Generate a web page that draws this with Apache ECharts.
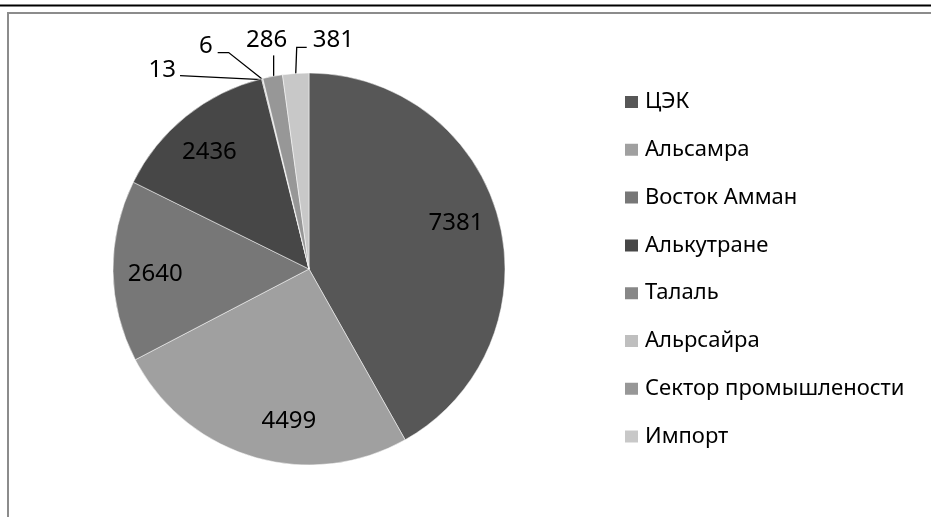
<!DOCTYPE html>
<html>
<head>
<meta charset="utf-8">
<script src="https://cdn.jsdelivr.net/npm/echarts@6/dist/echarts.min.js"></script>
<style>
html,body{margin:0;padding:0;background:#fff;}
#chart{width:931px;height:517px;}
</style>
</head>
<body>
<div id="chart"></div>
<script>
const categories = ['ЦЭК','Альсамра','Восток Амман','Алькутране','Талаль','Альрсайра','Сектор промышлености','Импорт'];
const values = [7381, 4499, 2640, 2436, 13, 6, 286, 381];
const colors = ['#575757','#a0a0a0','#777777','#474747','#878787','#bfbfbf','#979797','#c8c8c8'];

const FONT = '"Noto Sans", "DejaVu Sans", sans-serif';
const CX = 309, CY = 269, R = 196;
// inner label placement: angular tweak (deg)
const innerTweak = {0: -2.5, 1: -9, 2: -1.4, 3: -1.5};
// outer label leader layout relative to slice anchor
const outerLayout = {
  4: {pts: [[0,1],[-41,-1],[-82,-3]], lx: -86, ly: -9, align: 'right'},
  5: {pts: [[0,1],[-34,-26],[-45,-26]], lx: -50, ly: -32, align: 'right'},
  6: {pts: [[1,1],[1,-10],[1,-21]], lx: -6, ly: -36, align: 'center'},
  7: {pts: [[0,1],[1,-26],[11,-26]], lx: 17, ly: -33, align: 'left'}
};

const chart = echarts.init(document.getElementById('chart'), null, {renderer: 'canvas'});
const data = categories.map((n, i) => ({
  name: n,
  value: values[i],
  itemStyle: {color: colors[i]},
  label: {position: i <= 3 ? 'inside' : 'outside'},
  labelLine: {show: i > 3}
}));

chart.setOption({
  animation: false,
  backgroundColor: '#fff',
  graphic: [
    {type: 'line', shape: {x1: 0, y1: 5.5, x2: 931, y2: 5.5}, style: {stroke: '#000', lineWidth: 2}},
    {type: 'rect', shape: {x: 8, y: 13, width: 1000, height: 700}, style: {fill: null, stroke: '#8c8c8c', lineWidth: 2}}
  ],
  legend: {
    orient: 'vertical',
    left: 623,
    top: 90,
    padding: 0,
    itemWidth: 15,
    itemHeight: 14,
    itemGap: 23.8,
    icon: 'rect',
    selectedMode: false,
    data: categories,
    textStyle: {fontFamily: FONT, fontSize: 22, color: '#000', lineHeight: 24, padding: [0, 0, 0, 1]}
  },
  series: [{
    type: 'pie',
    center: [CX, CY],
    radius: R,
    startAngle: 90,
    clockwise: true,
    avoidLabelOverlap: false,
    itemStyle: {borderColor: '#ffffff', borderWidth: 0.5},
    label: {show: true, formatter: '{c}', fontFamily: FONT, fontSize: 24, color: '#000'},
    labelLine: {lineStyle: {color: '#000', width: 1.3}, length: 10, length2: 10},
    labelLayout: function (p) {
      const i = p.dataIndex;
      if (i <= 3) {
        const lr = p.labelRect;
        const lx = lr.x + lr.width / 2, ly = lr.y + lr.height / 2;
        let ang = Math.atan2(lx - CX, -(ly - CY));
        ang += (innerTweak[i] || 0) * Math.PI / 180;
        const r = 0.785 * R;
        return {x: CX + r * Math.sin(ang), y: CY - r * Math.cos(ang), align: 'center', verticalAlign: 'middle'};
      }
      const o = outerLayout[i];
      if (!o || !p.labelLinePoints) return {};
      const a = p.labelLinePoints[0];
      return {
        x: a[0] + o.lx,
        y: a[1] + o.ly,
        align: o.align,
        verticalAlign: 'middle',
        labelLinePoints: o.pts.map(d => [a[0] + d[0], a[1] + d[1]])
      };
    },
    data: data
  }]
});
</script>
</body>
</html>
